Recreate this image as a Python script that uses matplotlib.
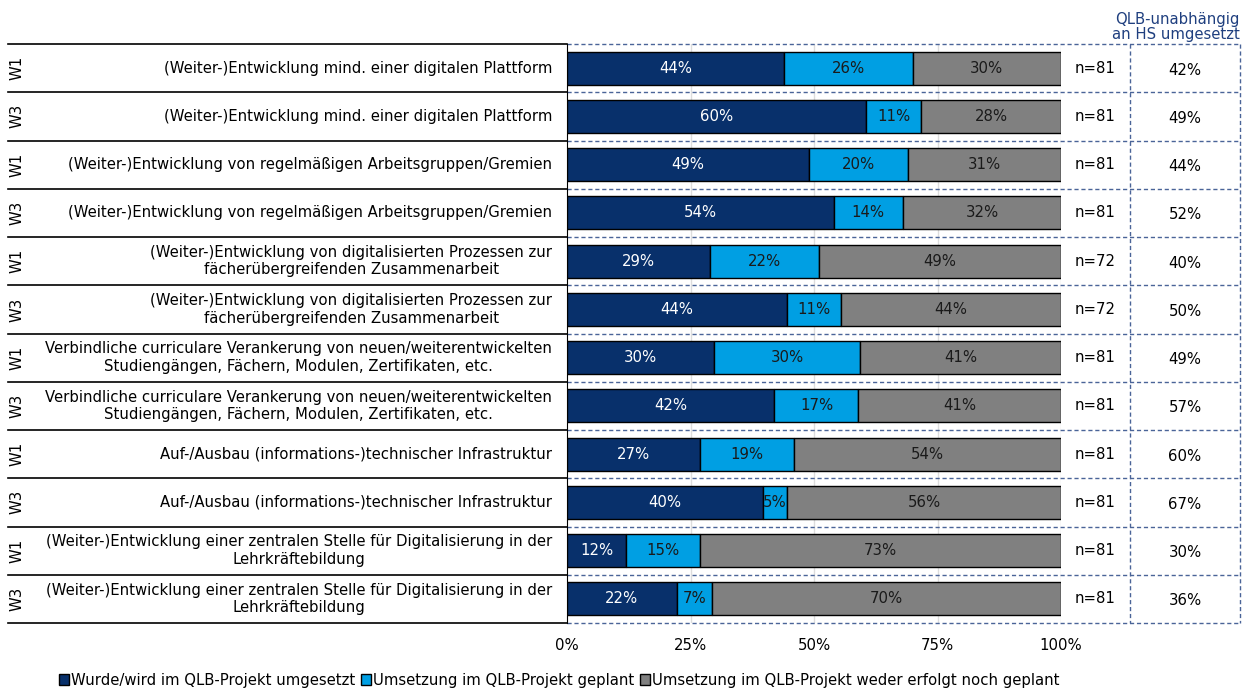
import matplotlib.pyplot as plt
import numpy as np

# data
waves = ["W1", "W3"] * 6
labels = [
    "(Weiter-)Entwicklung mind. einer digitalen Plattform",
    "(Weiter-)Entwicklung mind. einer digitalen Plattform",
    "(Weiter-)Entwicklung von regelmäßigen Arbeitsgruppen/Gremien",
    "(Weiter-)Entwicklung von regelmäßigen Arbeitsgruppen/Gremien",
    "(Weiter-)Entwicklung von digitalisierten Prozessen zur\nfächerübergreifenden Zusammenarbeit",
    "(Weiter-)Entwicklung von digitalisierten Prozessen zur\nfächerübergreifenden Zusammenarbeit",
    "Verbindliche curriculare Verankerung von neuen/weiterentwickelten\nStudiengängen, Fächern, Modulen, Zertifikaten, etc.",
    "Verbindliche curriculare Verankerung von neuen/weiterentwickelten\nStudiengängen, Fächern, Modulen, Zertifikaten, etc.",
    "Auf-/Ausbau (informations-)technischer Infrastruktur",
    "Auf-/Ausbau (informations-)technischer Infrastruktur",
    "(Weiter-)Entwicklung einer zentralen Stelle für Digitalisierung in der\nLehrkräftebildung",
    "(Weiter-)Entwicklung einer zentralen Stelle für Digitalisierung in der\nLehrkräftebildung",
]
umgesetzt = [44, 60, 49, 54, 29, 44, 30, 42, 27, 40, 12, 22]
geplant = [26, 11, 20, 14, 22, 11, 30, 17, 19, 5, 15, 7]
weder = [30, 28, 31, 32, 49, 44, 41, 41, 54, 56, 73, 70]
n_values = [81, 81, 81, 81, 72, 72, 81, 81, 81, 81, 81, 81]
qlb_unabh = [42, 49, 44, 52, 40, 50, 49, 57, 60, 67, 30, 36]

series_names = [
    "Wurde/wird im QLB-Projekt umgesetzt",
    "Umsetzung im QLB-Projekt geplant",
    "Umsetzung im QLB-Projekt weder erfolgt noch geplant",
]
colors = ["#08306B", "#009FE3", "#808080"]
text_colors = ["white", "#1a1a1a", "#1a1a1a"]

FS = 10.7
plt.rcParams["font.family"] = "DejaVu Sans"
plt.rcParams["font.size"] = FS

W, H = 1247, 690
fig = plt.figure(figsize=(W / 100, H / 100), dpi=100)
ax = fig.add_axes([567 / W, 1 - 623 / H, (1061 - 567) / W, (623 - 44) / H])

vals = np.array([umgesetzt, geplant, weder], dtype=float)
scaled = vals / vals.sum(axis=0) * 100
y = np.arange(len(umgesetzt))
left = np.zeros(len(y))
for k in range(3):
    ax.barh(y, scaled[k], left=left, height=0.68, color=colors[k],
            edgecolor="black", linewidth=1, label=series_names[k], zorder=3)
    for i in range(len(y)):
        ax.text(left[i] + scaled[k][i] / 2, y[i], f"{int(vals[k][i])}%",
                ha="center", va="center", color=text_colors[k], fontsize=FS, zorder=4)
    left += scaled[k]

ax.set_xlim(0, 100)
ax.set_ylim(len(y) - 0.5, -0.5)
ax.set_xticks([0, 25, 50, 75, 100])
ax.set_xticklabels(["0%", "25%", "50%", "75%", "100%"])
ax.tick_params(axis="x", length=0, pad=11, labelsize=FS)
ax.set_yticks([])
for s in ["top", "right", "bottom"]:
    ax.spines[s].set_visible(False)
ax.spines["left"].set_color("black")
for gx in [25, 50, 75, 100]:
    ax.axvline(gx, color="#DDDDDD", linewidth=1, zorder=1)

dash_c = "#4A6498"
x_left, x_nsep, x_right = -113.2, 114.0, 136.2
# left table lines and dashed row lines
for b in np.arange(-0.5, len(y), 1.0):
    ax.plot([x_left, 0], [b, b], color="black", linewidth=1.2, clip_on=False)
    ax.plot([0, x_right], [b, b], color=dash_c, linewidth=1, linestyle=(0, (3, 2)),
            clip_on=False, zorder=2)
ax.plot([x_nsep, x_nsep], [-0.5, len(y) - 0.5], color=dash_c, linewidth=1,
        linestyle=(0, (3, 2)), clip_on=False)
ax.plot([x_right, x_right], [-0.5, len(y) - 0.5], color=dash_c, linewidth=1,
        linestyle=(0, (3, 2)), clip_on=False)

for i in range(len(y)):
    ax.text(-111.3, y[i], waves[i], rotation=90, ha="center", va="center",
            fontsize=FS, clip_on=False)
    ax.text(-3.0, y[i], labels[i], ha="right", va="center", multialignment="center",
            fontsize=FS, clip_on=False)
    ax.text(106.9, y[i], f"n={n_values[i]}", ha="center", va="center",
            fontsize=FS, clip_on=False)
    ax.text(125.1, y[i] + 0.04, f"{qlb_unabh[i]}%", ha="center", va="center",
            fontsize=FS, clip_on=False)

fig.text(1240 / W, 1 - 27 / H, "QLB-unabhängig\nan HS umgesetzt", ha="right",
         va="center", multialignment="right", color="#1F3F7F", fontsize=FS,
         linespacing=1.0)

fig.legend(loc="lower center", bbox_to_anchor=(559 / W, -0.016), ncol=3,
           frameon=False, handlelength=0.7, handleheight=0.7, handletextpad=0.1,
           columnspacing=0.4, fontsize=FS)

fig.savefig("out.png", dpi=100)
